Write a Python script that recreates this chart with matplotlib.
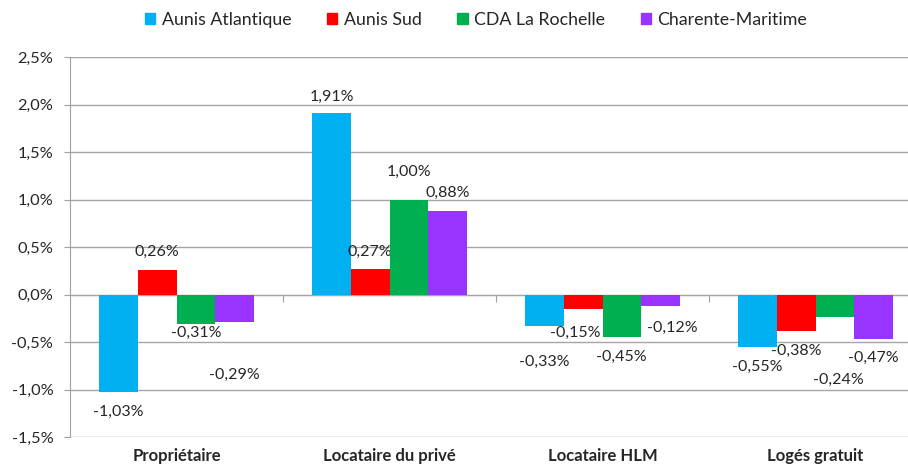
import matplotlib
matplotlib.use("Agg")
import matplotlib.pyplot as plt
import numpy as np
from matplotlib.ticker import FuncFormatter, FixedLocator
from matplotlib.patches import Patch

categories = ["Propriétaire", "Locataire du privé", "Locataire HLM", "Logés gratuit"]
series = ["Aunis Atlantique", "Aunis Sud", "CDA La Rochelle", "Charente-Maritime"]
aunis_atlantique = [-1.03, 1.91, -0.33, -0.55]
aunis_sud = [0.26, 0.27, -0.15, -0.38]
cda_la_rochelle = [-0.31, 1.00, -0.45, -0.24]
charente_maritime = [-0.29, 0.88, -0.12, -0.47]
values = [aunis_atlantique, aunis_sud, cda_la_rochelle, charente_maritime]
colors = ["#00B0F0", "#FF0000", "#00B050", "#9933FF"]

# label offsets in pixels (dx, dy) from bar tip, per category for each series
label_offsets = [
    [(0, -20), (0, 16), (0, -36), (0, -20)],
    [(0, 18), (0, 17), (-8, -24), (0, -20)],
    [(0, -8.5), (0, 28), (0, -20), (4, -63)],
    [(0, -53), (0, 18), (12, -22), (0, -19)],
]

plt.rcParams["font.family"] = ["Lato", "DejaVu Sans"]
txt = "#262626"

fig = plt.figure(figsize=(9.08, 4.68), dpi=100)
ax = fig.add_axes([70 / 908, 1 - 437 / 468, 852 / 908, 380 / 468])

x = np.arange(len(categories))
w = 0.181
for i, (vals, col) in enumerate(zip(values, colors)):
    pos = x + (i - 1.5) * w
    ax.bar(pos, vals, w, color=col, zorder=3)
    for j, v in enumerate(vals):
        dx, dy = label_offsets[i][j]
        ax.annotate(f"{v:.2f}%".replace(".", ","), (pos[j], v),
                    xytext=(dx, dy), textcoords="offset pixels",
                    ha="center", va="center", fontsize=11.5, color=txt)

ax.set_xlim(-0.5, 3.5)
ax.set_ylim(-1.5, 2.5)
ax.set_yticks(np.arange(-1.5, 2.51, 0.5))
ax.yaxis.set_major_formatter(FuncFormatter(lambda v, p: f"{v:.1f}%".replace(".", ",")))
ax.tick_params(axis="y", length=4, color="#a0a0a0", labelsize=11.8, labelcolor=txt, pad=8)
ax.yaxis.grid(True, color="#a6a6a6", lw=1, zorder=0)

ax.set_xticks(x)
ax.set_xticklabels(categories, fontweight="bold", fontsize=12, color=txt)
ax.tick_params(axis="x", length=0, pad=8)

for s in ["top", "right", "bottom"]:
    ax.spines[s].set_visible(False)
ax.spines["left"].set_color("#a0a0a0")

sec = ax.secondary_xaxis(0, transform=ax.transData)
sec.xaxis.set_major_locator(FixedLocator([0.5, 1.5, 2.5]))
sec.tick_params(axis="x", length=5, color="#a0a0a0", labelbottom=False, direction="out")
sec.spines["bottom"].set_color("#a0a0a0")

handles = [Patch(color=c, label=s) for c, s in zip(colors, series)]
fig.legend(handles=handles, loc="center", bbox_to_anchor=(476 / 908, 1 - 20 / 468),
           ncol=4, frameon=False, fontsize=12.8, handlelength=0.6, handleheight=0.6,
           handletextpad=0.35, columnspacing=2.0, labelcolor=txt)

fig.savefig("out.png", dpi=100)
